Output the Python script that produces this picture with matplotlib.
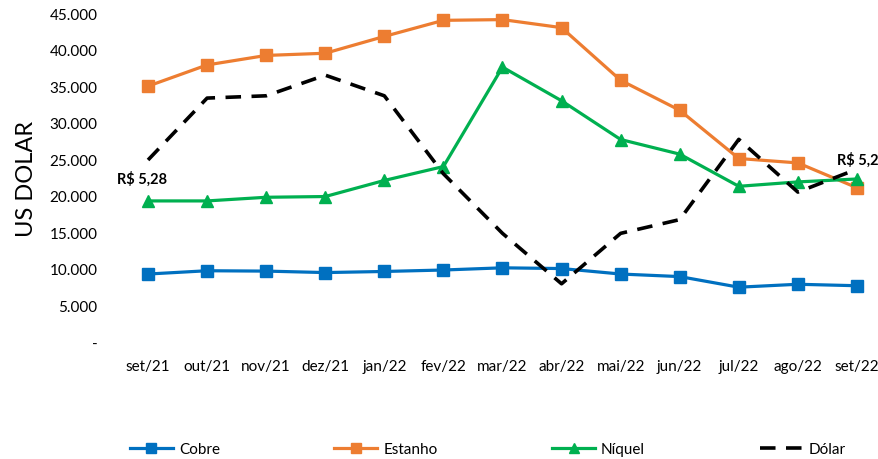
import matplotlib
matplotlib.use("Agg")
import matplotlib.pyplot as plt
from matplotlib.lines import Line2D

months = ["set/21", "out/21", "nov/21", "dez/21", "jan/22", "fev/22", "mar/22",
          "abr/22", "mai/22", "jun/22", "jul/22", "ago/22", "set/22"]
cobre = [9300, 9750, 9700, 9500, 9650, 9850, 10150, 10050, 9300, 8950, 7500, 7900, 7700]
estanho = [35000, 37900, 39200, 39500, 41800, 44000, 44100, 43000, 35800, 31700, 25100, 24500, 21100]
niquel = [19300, 19300, 19800, 19900, 22100, 24000, 37600, 33000, 27700, 25700, 21300, 21900, 22300]
dolar = [5.28, 5.55, 5.56, 5.65, 5.56, 5.22, 4.96, 4.74, 4.96, 5.02, 5.37, 5.14, 5.24]
yticks = [0, 5000, 10000, 15000, 20000, 25000, 30000, 35000, 40000, 45000]
yticklabels = ["-", "5.000", "10.000", "15.000", "20.000", "25.000", "30.000",
               "35.000", "40.000", "45.000"]
label_first = "R$ 5,28"
label_last = "R$ 5,2"

plt.rcParams['font.family'] = ['Lato', 'DejaVu Sans']

fig = plt.figure(figsize=(8.79, 4.60), dpi=100)
ax = fig.add_axes([0.1348, 0.2543, 0.8737, 0.7152])
x = list(range(len(months)))

c_cobre, c_est, c_niq = "#0070C0", "#ED7D31", "#00B050"
lw = 2.3
ms = 8.5
ax.plot(x, cobre, color=c_cobre, lw=lw, marker="s", ms=ms, label="Cobre")
ax.plot(x, estanho, color=c_est, lw=lw, marker="s", ms=ms, label="Estanho")
ax.plot(x, niquel, color=c_niq, lw=lw, marker="^", ms=ms, label="Níquel")

ax.set_xlim(-0.5, len(months) - 0.5)
ax.set_ylim(0, 45000)
ax.set_yticks(yticks)
ax.set_yticklabels(yticklabels)
ax.set_xticks(x)
ax.set_xticklabels(months)
ax.tick_params(axis="both", length=0, labelsize=11, colors="#000000")
ax.tick_params(axis="y", pad=15)
ax.tick_params(axis="x", pad=12)
for s in ax.spines.values():
    s.set_visible(False)
ax.set_ylabel("US DOLAR", fontsize=17, labelpad=9)

ax2 = ax.twinx()
ax2.plot(x, dolar, color="black", lw=2.6, linestyle=(0, (4.3, 2.9)), label="Dólar")
ax2.set_ylim(4.486, 5.921)
ax2.set_yticks([])
for s in ax2.spines.values():
    s.set_visible(False)

ax2.annotate(label_first, xy=(0, dolar[0]), xytext=(-4, -13), textcoords="offset points",
             ha="center", va="center", fontsize=10.5, fontweight="bold")
ax2.annotate(label_last, xy=(12, dolar[-1]), xytext=(-14, 7), textcoords="offset points",
             ha="left", va="center", fontsize=10.5, fontweight="bold")

handles = [
    Line2D([], [], color=c_cobre, lw=lw, marker="s", ms=7),
    Line2D([], [], color=c_est, lw=lw, marker="s", ms=7),
    Line2D([], [], color=c_niq, lw=lw, marker="^", ms=7),
    Line2D([], [], color="black", lw=2.6, linestyle=(0, (4.3, 2.9))),
]
fig.legend(handles, ["Cobre", "Estanho", "Níquel", "Dólar"], ncol=4,
           loc="center", bbox_to_anchor=(0.555, 0.022), frameon=False,
           fontsize=11, handlelength=2.8, columnspacing=7.5, handletextpad=0.4)

fig.savefig("out.png", dpi=100)
